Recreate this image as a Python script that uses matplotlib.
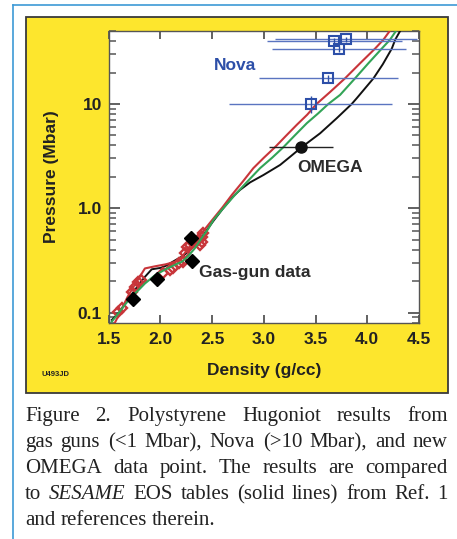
import matplotlib
matplotlib.use('Agg')
import matplotlib.pyplot as plt
from matplotlib.patches import Rectangle
from matplotlib.lines import Line2D

# SESAME EOS curves (density g/cc, pressure Mbar)
red_x = [1.56, 1.62, 1.68, 1.74, 1.80, 1.85, 1.95, 2.05, 2.16, 2.21, 2.29, 2.40, 2.50, 2.60, 2.69,
         2.80, 2.898, 3.00, 3.108, 3.21, 3.318, 3.42, 3.51, 3.64, 3.785, 3.93, 4.075, 4.156, 4.22]
red_y = [0.08, 0.105, 0.14, 0.177, 0.22, 0.265, 0.278, 0.29, 0.31, 0.344, 0.44, 0.58, 0.77, 1.02, 1.34,
         1.82, 2.42, 3.05, 3.85, 4.9, 6.3, 7.9, 10.0, 13.0, 17.6, 24.5, 33.9, 41.3, 50.5]
green_x = [1.53, 1.60, 1.66, 1.72, 1.79, 1.85, 1.95, 2.05, 2.15, 2.21, 2.27, 2.33, 2.40, 2.46, 2.512,
           2.60, 2.72, 2.84, 2.963, 3.08, 3.189, 3.30, 3.415, 3.524, 3.624, 3.737, 3.882, 4.01, 4.14,
           4.22, 4.28]
green_y = [0.082, 0.10, 0.12, 0.142, 0.165, 0.19, 0.229, 0.26, 0.29, 0.308, 0.35, 0.41, 0.52, 0.63, 0.77,
           0.98, 1.34, 1.80, 2.42, 3.05, 3.85, 5.0, 6.53, 8.1, 10.0, 12.2, 17.6, 24.5, 33.9,
           41.3, 50.5]
black_x = [1.53, 1.60, 1.66, 1.72, 1.79, 1.85, 1.916, 2.00, 2.05, 2.15, 2.22, 2.29, 2.40, 2.51, 2.60,
           2.70, 2.77, 2.867, 2.995, 3.157, 3.26, 3.366, 3.544, 3.705, 3.85, 3.90, 4.06, 4.15, 4.237,
           4.27, 4.32]
black_y = [0.085, 0.10, 0.123, 0.148, 0.185, 0.22, 0.26, 0.268, 0.28, 0.32, 0.35, 0.40, 0.53, 0.75, 0.98,
           1.29, 1.50, 1.77, 2.08, 2.60, 3.15, 3.85, 5.23, 7.30, 10.0, 11.4, 17.6, 24.0, 33.9,
           41.3, 50.5]

# gas-gun data (open red diamonds)
gg_red_x = [1.593, 1.626, 1.722, 1.754, 1.786, 1.812, 2.028, 2.093, 2.125, 2.18, 2.221, 2.238,
            2.254, 2.286, 2.318, 2.367, 2.399, 2.415, 2.383, 2.40]
gg_red_y = [0.102, 0.110, 0.158, 0.177, 0.198, 0.206, 0.238, 0.256, 0.266, 0.297, 0.308, 0.371,
            0.429, 0.445, 0.478, 0.497, 0.535, 0.576, 0.445, 0.47]
# gas-gun data (filled black diamonds)
gg_blk_x = [1.738, 1.964, 2.296, 2.309]
gg_blk_y = [0.134, 0.208, 0.515, 0.313]

# Nova points
nova_x = [3.453, 3.624, 3.724, 3.682, 3.795]
nova_y = [10.0, 17.6, 33.6, 40.2, 41.7]
nova_xlo = [2.663, 2.956, 3.079, 3.028, 3.109]
nova_xhi = [4.243, 4.300, 4.372, 4.334, 4.479]
nova_yerr = [1.8, 1.2, 2.0, 2.2, 2.2]

# OMEGA point
omega_x = [3.36]
omega_y = [3.85]
omega_xlo = [3.053]
omega_xhi = [3.672]

xticks = [1.5, 2.0, 2.5, 3.0, 3.5, 4.0, 4.5]
yticks = [0.1, 1.0, 10]
ytick_labels = ['0.1', '1.0', '10']

caption = [
    ('Figure 2. Polystyrene Hugoniot results from', True),
    ('gas guns (<1 Mbar), Nova (>10 Mbar), and new', True),
    ('OMEGA data point. The results are compared', True),
    ('to *SESAME* EOS tables (solid lines) from Ref. 1', True),
    ('and references therein.', False),
]

W, H = 457, 539
fig = plt.figure(figsize=(W / 100, H / 100), dpi=100)
fig.patch.set_facecolor('white')

# light blue frame (top and left)
fig.add_artist(Line2D([13 / W, 1], [1 - 5 / H, 1 - 5 / H], color='#3d9ad6', lw=1.2, zorder=-2))
fig.add_artist(Line2D([13 / W, 13 / W], [0, 1 - 5 / H], color='#3d9ad6', lw=1.2, zorder=-2))

# yellow panel
fig.add_artist(Rectangle((25.7 / W, 1 - 393.3 / H), 422.3 / W, 376.6 / H,
                         facecolor='#fde62d', edgecolor='#3a3a3a', lw=1.3, zorder=-1))

ax = fig.add_axes([108.7 / W, 1 - 322.7 / H, 310.3 / W, 291.7 / H])
ax.set_facecolor('white')
ax.set_yscale('log')
ax.set_xlim(1.5, 4.5)
ax.set_ylim(0.08, 50)

ax.plot(black_x, black_y, color='#111111', lw=1.4, zorder=3)
ax.plot(red_x, red_y, color='#c8353a', lw=1.5, zorder=4)
ax.plot(green_x, green_y, color='#33a457', lw=1.5, zorder=5)

ax.plot(gg_red_x, gg_red_y, 'D', ms=5, mfc='none', mec='#c8353a', mew=1.7, zorder=3)
ax.plot(gg_blk_x, gg_blk_y, 'D', ms=7.5, color='black', zorder=6)

xerr_n = [[x - lo for x, lo in zip(nova_x, nova_xlo)], [hi - x for x, hi in zip(nova_x, nova_xhi)]]
ax.errorbar(nova_x, nova_y, xerr=xerr_n, fmt='none', ecolor='#5a74c0', elinewidth=1.0,
            capsize=0, zorder=6, clip_on=False)
ax.errorbar(nova_x, nova_y, yerr=nova_yerr, fmt='s', ms=6.5, mfc='none', mec='#2d4fa8', mew=1.5,
            ecolor='#2d4fa8', elinewidth=1.0, capsize=0, zorder=7)

xerr_o = [[x - lo for x, lo in zip(omega_x, omega_xlo)], [hi - x for x, hi in zip(omega_x, omega_xhi)]]
ax.errorbar(omega_x, omega_y, xerr=xerr_o, fmt='o', ms=8, color='#111111', ecolor='#222222',
            elinewidth=1.0, capsize=0, zorder=7)

bold = dict(family='Liberation Sans', weight='bold')
ax.text(2.72, 23.5, 'Nova', color='#2d4fa8', fontsize=12.5, ha='center', va='center', **bold)
ax.text(3.64, 2.45, 'OMEGA', color='#2b2b2b', fontsize=12.5, ha='center', va='center', **bold)
ax.text(2.915, 0.242, 'Gas-gun data', color='#2b2b2b', fontsize=12.5, ha='center', va='center', **bold)

ax.set_xticks(xticks)
ax.set_xticklabels([f'{t:.1f}' for t in xticks])
ax.set_yticks(yticks)
ax.set_yticklabels(ytick_labels)
ax.tick_params(which='major', direction='in', top=True, right=True, length=6, width=1.3,
               color='#555555', pad=7, labelsize=12.5)
ax.tick_params(axis='y', which='major', length=8, pad=5)
ax.tick_params(axis='y', which='minor', direction='in', right=True, length=5, width=1.1,
               color='#555555')
ax.tick_params(axis='x', which='minor', bottom=False, top=False)
for lab in ax.get_xticklabels() + ax.get_yticklabels():
    lab.set_fontfamily('Liberation Sans')
    lab.set_fontweight('bold')
    lab.set_color('#222222')
for s in ax.spines.values():
    s.set_color('#555555')
    s.set_linewidth(1.0)

fig.text(52 / W, 1 - 176.7 / H, 'Pressure (Mbar)', rotation=90, ha='center', va='center',
         fontsize=12.5, color='#222222', **bold)
fig.text(264 / W, 1 - 370 / H, 'Density (g/cc)', ha='center', va='center',
         fontsize=12.5, color='#222222', **bold)
fig.text(42 / W, 1 - 374 / H, 'U493JD', ha='left', va='center', fontsize=5.5, color='#222222', **bold)

# justified caption
renderer = fig.canvas.get_renderer()
left, right = 25 / W, 448 / W
base0, step = 421, 26
for i, (line, justify) in enumerate(caption):
    words = line.split(' ')
    y = 1 - (base0 + i * step) / H
    arts = []
    widths = []
    for w in words:
        italic = w.startswith('*')
        t = fig.text(0, y, w.strip('*'), fontsize=15, family='Liberation Serif',
                     style='italic' if italic else 'normal', color='#222222',
                     ha='left', va='baseline')
        arts.append(t)
        widths.append(t.get_window_extent(renderer).width / W)
    if justify and len(words) > 1:
        gap = (right - left - sum(widths)) / (len(words) - 1)
    else:
        gap = fig.text(0, 0, ' ', fontsize=15, family='Liberation Serif').get_window_extent(renderer).width / W
    x = left
    for t, wd in zip(arts, widths):
        t.set_x(x)
        x += wd + gap

fig.savefig('out.png', dpi=100)
